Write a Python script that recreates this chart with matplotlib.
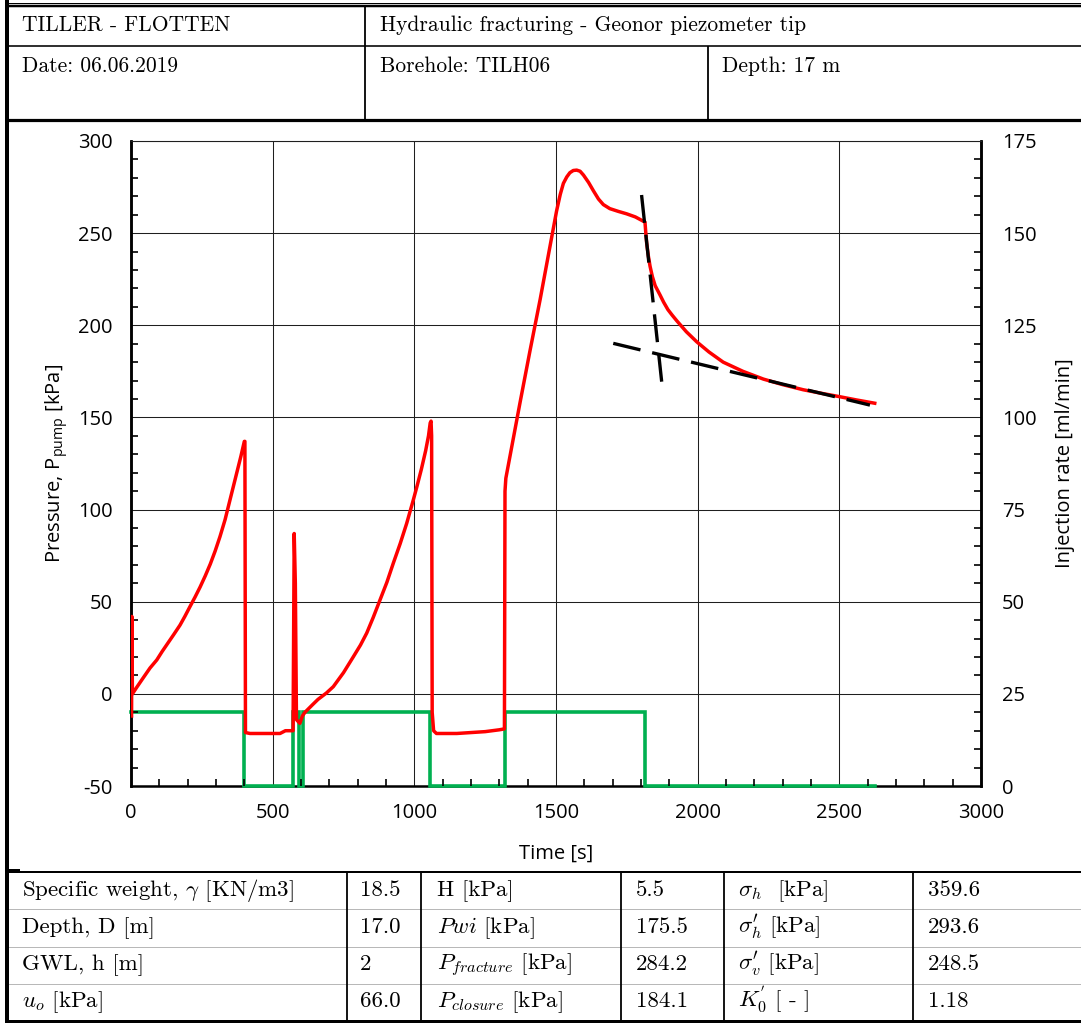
import matplotlib
matplotlib.use("Agg")
import matplotlib.pyplot as plt
from matplotlib.lines import Line2D
from matplotlib.ticker import MultipleLocator

# ---- data -------------------------------------------------------------
pump_time = [2, 3, 5, 20, 40, 67, 91, 110, 130, 150, 173, 190, 208, 226, 244,
             262, 280, 297, 314, 332, 349, 362, 375, 388, 400,
             402, 404, 420, 526, 545, 572, 576, 580, 584, 596, 605, 614, 640,
             660, 690, 714, 750, 785, 810, 832, 855, 879, 903, 926, 950, 973,
             996, 1010, 1025, 1040, 1050, 1056, 1059,
             1061, 1063, 1068, 1078, 1150, 1250, 1300, 1318,
             1320, 1323, 1373, 1408, 1444, 1479, 1502, 1515, 1526, 1538, 1549,
             1561, 1573, 1585, 1597, 1615, 1632, 1650, 1667, 1690, 1720, 1749,
             1780, 1814, 1817, 1820, 1826, 1832, 1840, 1850, 1867, 1880, 1895,
             1910, 1926, 1960, 1997, 2040, 2090, 2160, 2232, 2300, 2373, 2440,
             2503, 2560, 2625]
pump_pressure = [-12, 42, 0, 3.5, 8, 14, 18.4, 23, 27.5, 32, 37.3, 42, 47.3,
                 52.5, 58, 64, 70.5, 77.5, 85.3, 94.5, 105, 113, 121, 129, 137,
                 137, -21, -21.5, -21.5, -20, -20, 87, 60, -14, -16, -12, -10,
                 -6, -3, 0.5, 3.9, 11.5, 20.2, 26.5, 33, 41.5, 51, 60.5, 71,
                 81.5, 92.5, 105, 113, 122, 132, 140, 147, 148,
                 140, -10, -20, -21.5, -21.5, -20.5, -19.5, -19,
                 110, 117, 158, 186, 214, 243, 262, 271, 277, 280.5, 282.8,
                 284, 284.2, 283.6, 281.5, 277.5, 273, 268.5, 265.5, 263.3,
                 261.8, 260.5, 258.8, 256, 250, 244.6, 237.5, 232, 226.5, 221.5,
                 216.5, 212.5, 208.5, 205.5, 202.5, 196.5, 191, 185.5, 180, 175,
                 170.8, 167.8, 165, 163, 161.2, 159.5, 157.7]

rate_time = [0, 400, 573, 593, 608, 1055, 1320, 1814, 2626]
rate_value = [20, 0, 20, 0, 20, 0, 20, 0, 0]

# tangent lines used to pick the closure pressure
tangent1_time = [1802, 1873]
tangent1_pressure = [270.7, 169.4]
tangent2_time = [1702, 2608]
tangent2_pressure = [190.2, 156.7]

header_row1 = ["TILLER - FLOTTEN", "Hydraulic fracturing - Geonor piezometer tip"]
header_row2 = ["Date: 06.06.2019", "Borehole: TILH06", "Depth: 17 m"]

param_names_1 = [r"Specific weight, $\gamma$ [KN/m3]", "Depth, D [m]", "GWL, h [m]",
                 r"$u_o$ [kPa]"]
param_values_1 = ["18.5", "17.0", "2", "66.0"]
param_names_2 = ["H [kPa]", r"$Pwi$ [kPa]", r"$P_{fracture}$ [kPa]",
                 r"$P_{closure}$ [kPa]"]
param_values_2 = ["5.5", "175.5", "284.2", "184.1"]
param_names_3 = [r"$\sigma_h$  [kPa]", r"$\sigma_h'$ [kPa]", r"$\sigma_v'$ [kPa]",
                 r"$K_0^{'}$ [ - ]"]
param_values_3 = ["359.6", "293.6", "248.5", "1.18"]

# ---- figure -----------------------------------------------------------
SANS = ["Open Sans", "DejaVu Sans"]
SERIF = "cmr10"
W, H = 1081, 1023
plt.rcParams["mathtext.fontset"] = "cm"
plt.rcParams["font.family"] = SANS
plt.rcParams["axes.unicode_minus"] = False
fig = plt.figure(figsize=(W / 100, H / 100), dpi=100)
fig.patch.set_facecolor("white")


def fx(x):
    return x / W


def fy(y):
    return 1 - y / H


def hline(y, x0, x1, lw, color="black", ls="-"):
    fig.add_artist(Line2D([fx(x0), fx(x1)], [fy(y), fy(y)], lw=lw * 0.72,
                          color=color, ls=ls, solid_capstyle="butt"))


def vline(x, y0, y1, lw, color="black"):
    fig.add_artist(Line2D([fx(x), fx(x)], [fy(y0), fy(y1)], lw=lw * 0.72,
                          color=color, solid_capstyle="butt"))


# plot area
ax_l, ax_r, ax_t, ax_b = 131, 981, 141, 786
ax = fig.add_axes([fx(ax_l), fy(ax_b), (ax_r - ax_l) / W, (ax_b - ax_t) / H])
ax2 = ax.twinx()
ax.set_zorder(ax2.get_zorder() + 1)
ax.patch.set_visible(False)

ax.set_xlim(0, 3000)
ax.set_ylim(-50, 300)
ax2.set_ylim(0, 175)

# grid lives on the back axes so the curves sit above it
ax2.xaxis.set_visible(True)
ax2.tick_params(axis="x", which="both", bottom=False, top=False,
                labelbottom=False, labeltop=False)
ax2.xaxis.set_major_locator(MultipleLocator(500))
ax2.yaxis.set_major_locator(MultipleLocator(25))
ax2.grid(True, which="major", color="0.12", lw=0.75)

ax2.plot(rate_time, rate_value, drawstyle="steps-post", color="#00B050",
         lw=2.6, clip_on=False, zorder=3, solid_joinstyle="miter")
ax.plot(pump_time, pump_pressure, color="#FF0000", lw=2.5, zorder=4,
        solid_joinstyle="round")
dash = (0, (8.4, 3.6))
ax.plot(tangent1_time, tangent1_pressure, color="black", lw=2.4, ls=dash,
        zorder=5)
ax.plot(tangent2_time, tangent2_pressure, color="black", lw=2.4, ls=dash,
        zorder=5)

ax.xaxis.set_major_locator(MultipleLocator(500))
ax.xaxis.set_minor_locator(MultipleLocator(100))
ax.yaxis.set_major_locator(MultipleLocator(50))
ax.yaxis.set_minor_locator(MultipleLocator(10))
ax2.yaxis.set_minor_locator(MultipleLocator(5))

TICK_SIZE = 14.5
ax.tick_params(axis="both", which="both", direction="in", labelsize=TICK_SIZE,
               width=1.2, colors="black")
ax.tick_params(axis="both", which="minor", length=5)
ax.tick_params(axis="both", which="major", length=0)
ax.tick_params(axis="y", pad=13)
ax.tick_params(axis="x", pad=12)
ax2.tick_params(axis="y", which="both", direction="in", labelsize=TICK_SIZE,
                width=1.2, pad=15)
ax2.tick_params(axis="y", which="minor", length=5)
ax2.tick_params(axis="y", which="major", length=0)

for a in (ax, ax2):
    for side in ("left", "bottom", "right"):
        a.spines[side].set_linewidth(1.8)
        a.spines[side].set_color("black")
    a.spines["top"].set_linewidth(0.75)
    a.spines["top"].set_color("0.12")
# the rate trace at zero runs over the time axis line
ax.spines["bottom"].set_visible(False)

ax.set_xlabel("Time [s]", fontsize=TICK_SIZE, labelpad=15)
ax.set_ylabel(r"Pressure, P$_{\mathregular{pump}}$ [kPa]", fontsize=TICK_SIZE,
              labelpad=6)
ax2.set_ylabel("Injection rate [ml/min]", fontsize=TICK_SIZE, labelpad=13)

# ---- header block -------------------------------------------------------
vline(7, 0, H, 4)
hline(2.7, 5, W, 1)
hline(5.7, 5, W, 2.5)
hline(45.5, 9, W, 1.6)
hline(120, 5, W, 3.2)
vline(365, 6, 120, 1.8)
vline(708, 46, 120, 1.8)

hdr_size = 15.5
fig.text(fx(22), fy(25), header_row1[0], family=SERIF, fontsize=hdr_size,
         va="center", ha="left")
fig.text(fx(380), fy(25), header_row1[1], family=SERIF, fontsize=hdr_size,
         va="center", ha="left")
for x, s in zip([22, 380, 722], header_row2):
    fig.text(fx(x), fy(66), s, family=SERIF, fontsize=hdr_size,
             va="center", ha="left")

# ---- parameter table ----------------------------------------------------
hline(870, 9, 20, 2)
hline(872, 9, W, 2)
for y in (909, 947, 984):
    hline(y, 9, W, 1, color="0.45", ls=(0, (1, 1)))
hline(1021, 5, W, 3)
for x in (347, 421, 621, 724, 913):
    vline(x, 872, 1021, 1.8)

tbl_size = 16.5
baselines = [896, 933, 970, 1007]
columns = [(22, param_names_1), (360, param_values_1), (437, param_names_2),
           (636, param_values_2), (738, param_names_3), (928, param_values_3)]
for x, texts in columns:
    for y, s in zip(baselines, texts):
        fig.text(fx(x), fy(y), s, family=SERIF, fontsize=tbl_size,
                 va="baseline", ha="left")

fig.savefig("out.png", dpi=100, facecolor="white")
